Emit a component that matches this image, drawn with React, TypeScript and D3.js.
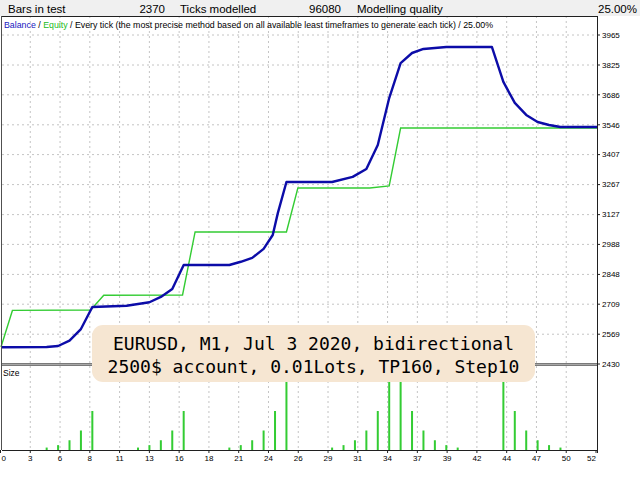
import * as d3 from "d3";

// trade index / balance value (blue curve)
const balanceX = [0, 4, 5, 6, 7, 8, 11, 13, 14, 15, 16, 20, 21, 22, 23, 23.8, 24.25, 25, 29, 30.8, 32, 33, 34, 35, 36, 37, 39, 43, 44, 45, 46, 47, 48, 49, 52.2];
const balanceY = [2508, 2509, 2514, 2539, 2593, 2696, 2702, 2718, 2743, 2780, 2892, 2892, 2907, 2925, 2967, 3032, 3135, 3279, 3279, 3303, 3340, 3452, 3671, 3834, 3881, 3900, 3909, 3909, 3746, 3648, 3592, 3559, 3545, 3536, 3536];

// equity (green step line)
const equityX = [0, 1, 7.85, 9, 15.9, 17, 25, 26, 32.3, 34, 35, 52.2];
const equityY = [2509, 2680, 2682, 2751, 2752, 3046, 3046, 3251, 3251, 3261, 3531, 3531];

// lot size per trade
const sizeX = [4, 5, 6, 7, 8, 12, 13, 14, 15, 16, 20, 21, 22, 23, 24, 25, 29, 30, 31, 32, 33, 34, 35, 36, 37, 38, 39, 40, 44, 45, 46, 47, 48, 49];
const sizeV = [0.01, 0.02, 0.04, 0.08, 0.16, 0.01, 0.02, 0.04, 0.08, 0.16, 0.01, 0.02, 0.04, 0.08, 0.16, 0.32, 0.01, 0.02, 0.04, 0.08, 0.16, 0.32, 0.32, 0.16, 0.08, 0.04, 0.02, 0.01, 0.32, 0.16, 0.08, 0.04, 0.02, 0.01];

const xTickLabels = ["0", "3", "6", "8", "11", "13", "16", "18", "21", "24", "26", "29", "31", "34", "37", "39", "42", "44", "47", "50", "52"];
const yTickLabels = [2430, 2569, 2709, 2848, 2988, 3127, 3267, 3407, 3546, 3686, 3825, 3965];

const headerItems = [
  { text: "Bars in test", x: 8, anchor: "start" },
  { text: "2370", x: 165, anchor: "end" },
  { text: "Ticks modelled", x: 180, anchor: "start" },
  { text: "96080", x: 341, anchor: "end" },
  { text: "Modelling quality", x: 357, anchor: "start" },
  { text: "25.00%", x: 637, anchor: "end" },
];

const noteLines = ["EURUSD, M1, Jul 3 2020, bidirectional", "2500$ account, 0.01Lots, TP160, Step10"];

export default function App() {
  const W = 640, H = 480;
  const left = 2, right = 597, top = 16, sep = 365, bottom = 450;
  const sans = "'Liberation Sans', Arial, sans-serif";

  const x = d3.scaleLinear().domain([0, 52.2]).range([1, right]);
  const y = d3.scaleLinear().domain([2430, 3965]).range([364, 35]);
  const ys = d3.scaleLinear().domain([0, 0.32]).range([bottom, 372]);
  const grid = d3.scalePoint<string>().domain(xTickLabels).range([0.5, 596]);

  const line = d3.line<[number, number]>().x(d => x(d[0])).y(d => y(d[1]));
  const balance = line(balanceX.map((v, i) => [v, balanceY[i]] as [number, number]));
  const equity = line(equityX.map((v, i) => [v, equityY[i]] as [number, number]));

  const gridColor = "#c4c4c4";

  return (
    <svg width={W} height={H} style={{ position: "absolute", left: 0, top: 0, background: "#fff" }}>
      {/* header strip */}
      <rect x={0} y={0} width={W} height={top} fill="#f0f0f0" />
      {headerItems.map((h, i) => (
        <text key={i} x={h.x} y={13} fontSize={11.5} fontFamily={sans} textAnchor={h.anchor as any} fill="#000">{h.text}</text>
      ))}

      {/* grid, top panel */}
      {yTickLabels.map(v => (
        <line key={"h" + v} x1={left} x2={right} y1={y(v)} y2={y(v)} stroke={gridColor} strokeDasharray="2,3" />
      ))}
      {xTickLabels.slice(1, -1).map(t => (
        <line key={"v" + t} x1={grid(t)} x2={grid(t)} y1={top} y2={bottom} stroke={gridColor} strokeDasharray="2,3" />
      ))}

      {/* size bars */}
      {sizeX.map((v, i) => (
        <rect key={"b" + i} x={x(v) - 1} width={2} y={ys(sizeV[i])} height={bottom - ys(sizeV[i])} fill="#33cc33" />
      ))}

      {/* curves */}
      <path d={equity ?? ""} fill="none" stroke="#33cc33" strokeWidth={1.4} />
      <path d={balance ?? ""} fill="none" stroke="#0c0ca8" strokeWidth={2.4} strokeLinejoin="round" />

      {/* separator between panels */}
      <rect x={left} y={sep - 2} width={right - left} height={3} fill="#7a7a7a" />
      <line x1={left} x2={right} y1={sep - 0.5} y2={sep - 0.5} stroke="#a8a8a8" strokeWidth={1} />

      {/* frame */}
      <line x1={left} x2={right} y1={top + 0.5} y2={top + 0.5} stroke="#202020" />
      <line x1={left - 0.5} x2={left - 0.5} y1={top} y2={bottom} stroke="#505050" />
      <line x1={right + 0.5} x2={right + 0.5} y1={top} y2={bottom + 3} stroke="#202020" />
      <line x1={left} x2={right} y1={bottom + 0.5} y2={bottom + 0.5} stroke="#202020" />

      {/* legend */}
      <text x={4} y={27.5} fontSize={8.8} fontFamily={sans} fill="#000">
        <tspan fill="#2020c0">Balance</tspan>
        <tspan> / </tspan>
        <tspan fill="#22bb22">Equity</tspan>
        <tspan> / Every tick (the most precise method based on all available least timeframes to generate each tick) / 25.00%</tspan>
      </text>
      <text x={3} y={376} fontSize={8.5} fontFamily={sans} fill="#000">Size</text>

      {/* right axis */}
      {yTickLabels.map(v => (
        <g key={"yt" + v}>
          <line x1={right} x2={right + 3} y1={y(v)} y2={y(v)} stroke="#202020" />
          <text x={602} y={y(v)} dy="0.35em" fontSize={8} fontFamily={sans} fill="#000">{v}</text>
        </g>
      ))}

      {/* bottom axis */}
      {xTickLabels.map((t, i) => (
        <g key={"xt" + t}>
          <line x1={grid(t)} x2={grid(t)} y1={bottom} y2={bottom + 3} stroke="#202020" />
          <text
            x={(grid(t) ?? 0) + (i === 0 ? 1 : 0)}
            y={461}
            fontSize={8}
            fontFamily={sans}
            textAnchor={i === 0 ? "start" : i === xTickLabels.length - 1 ? "end" : "middle"}
            fill="#000"
          >{t}</text>
        </g>
      ))}

      {/* annotation */}
      <rect x={92} y={325} width={443} height={57} rx={11} fill="#f6e6d2" />
      {noteLines.map((s, i) => (
        <text key={"n" + i} x={313.5} y={350 + i * 23} fontSize={18} fontFamily="'DejaVu Sans Mono', monospace" textAnchor="middle" fill="#000">{s}</text>
      ))}
    </svg>
  );
}
